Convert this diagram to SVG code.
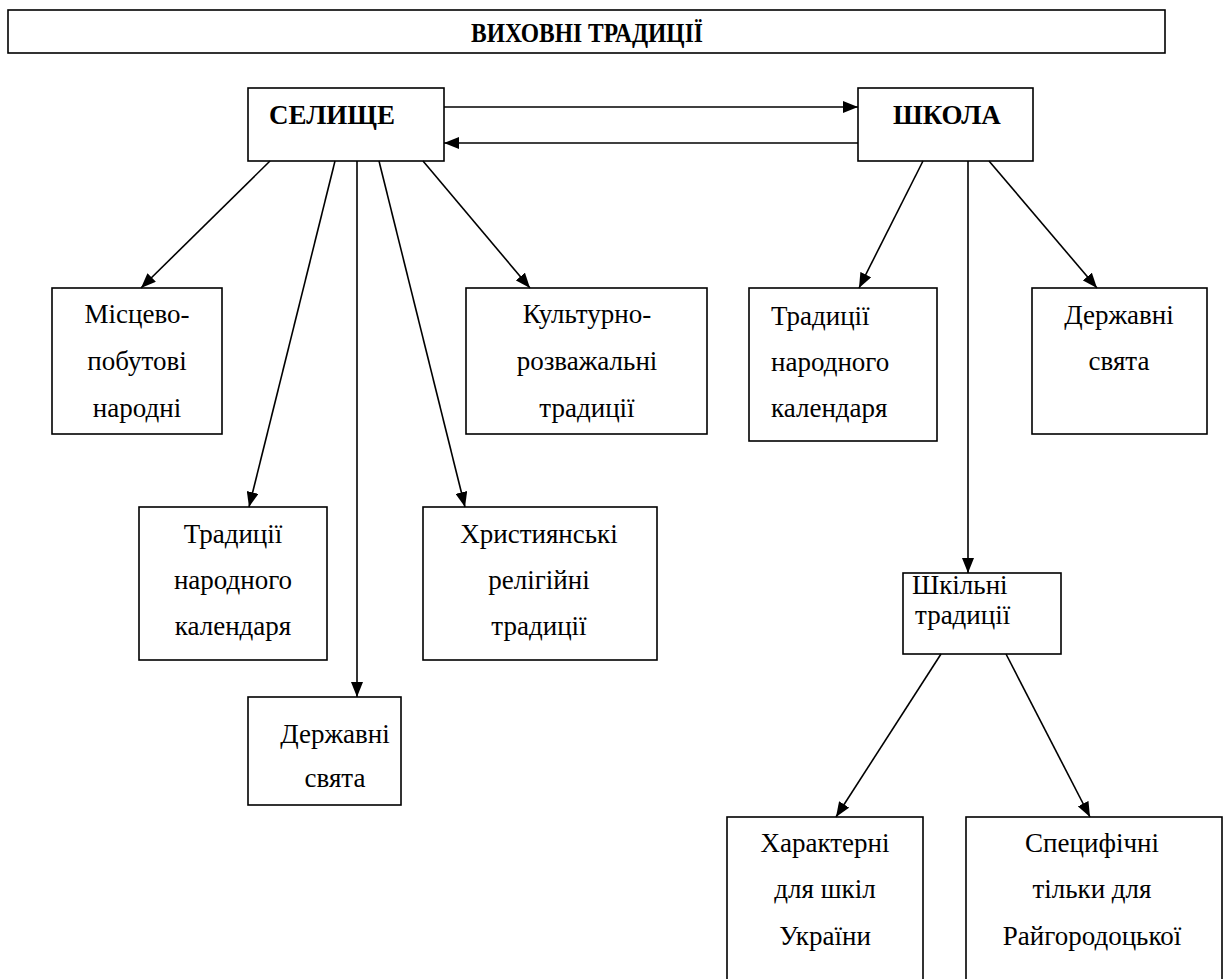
<svg xmlns="http://www.w3.org/2000/svg" width="1232" height="979" viewBox="0 0 1232 979">
<style>
text{font-family:'Liberation Serif','Times New Roman',serif;font-size:27px;fill:#000}
.box{fill:#fff;stroke:#000;stroke-width:1.6}
.t{text-anchor:middle}
.b{font-weight:bold}
.c{stroke:#000;stroke-width:1.6;fill:none;marker-end:url(#ah)}
</style>
<defs>
<marker id="ah" markerUnits="userSpaceOnUse" markerWidth="16" markerHeight="12" refX="15" refY="6" orient="auto">
<path d="M0,0 L15,6 L0,12 z" fill="#000"/>
</marker>
</defs>
<rect width="1232" height="979" fill="#fff"/>
<g id="title">
<rect class="box" x="8" y="10" width="1157" height="43"/>
<text class="b t" x="587" y="42" transform="translate(587,42) scale(1,1.2) translate(-587,-42)" style="font-size:23.5px">ВИХОВНІ ТРАДИЦІЇ</text>
</g>
<g id="selyshche">
<rect class="box" x="248" y="88" width="196" height="73"/>
<text class="b" x="269" y="124">СЕЛИЩЕ</text>
</g>
<g id="shkola">
<rect class="box" x="858" y="88" width="175" height="73"/>
<text class="b" x="893" y="124">ШКОЛА</text>
</g>
<g id="mistsevo">
<rect class="box" x="52" y="288" width="170" height="146"/>
<text class="t" x="137" y="323">Місцево-</text>
<text class="t" x="137" y="370">побутові</text>
<text class="t" x="137" y="417">народні</text>
</g>
<g id="kulturno">
<rect class="box" x="466" y="288" width="241" height="146"/>
<text class="t" x="587" y="323">Культурно-</text>
<text class="t" x="587" y="370">розважальні</text>
<text class="t" x="587" y="417">традиції</text>
</g>
<g id="tradytsii-r">
<rect class="box" x="749" y="288" width="188" height="153"/>
<text x="771" y="325">Традиції</text>
<text x="771" y="371">народного</text>
<text x="771" y="417">календаря</text>
</g>
<g id="derzhavni-r">
<rect class="box" x="1032" y="288" width="175" height="146"/>
<text class="t" x="1119" y="324">Державні</text>
<text class="t" x="1119" y="370">свята</text>
</g>
<g id="tradytsii-l">
<rect class="box" x="139" y="507" width="188" height="153"/>
<text class="t" x="233" y="543">Традиції</text>
<text class="t" x="233" y="589">народного</text>
<text class="t" x="233" y="635">календаря</text>
</g>
<g id="khrystyianski">
<rect class="box" x="423" y="507" width="234" height="153"/>
<text class="t" x="539" y="543">Християнські</text>
<text class="t" x="539" y="589">релігійні</text>
<text class="t" x="539" y="635">традиції</text>
</g>
<g id="derzhavni-l">
<rect class="box" x="248" y="697" width="153" height="108"/>
<text class="t" x="335" y="743">Державні</text>
<text class="t" x="335" y="787">свята</text>
</g>
<g id="shkilni">
<rect class="box" x="903" y="573" width="158" height="81"/>
<text x="912" y="594">Шкільні</text>
<text x="915" y="624">традиції</text>
</g>
<g id="kharakterni">
<rect class="box" x="727" y="817" width="196" height="180"/>
<text class="t" x="825" y="852">Характерні</text>
<text class="t" x="825" y="898">для шкіл</text>
<text class="t" x="825" y="945">України</text>
</g>
<g id="spetsyfichni">
<rect class="box" x="966" y="817" width="256" height="180"/>
<text class="t" x="1092" y="852">Специфічні</text>
<text class="t" x="1092" y="898">тільки для</text>
<text class="t" x="1092" y="945">Райгородоцької</text>
</g>
<g id="connectors">
<line class="c" x1="444" y1="107" x2="858" y2="107"/>
<line class="c" x1="858" y1="143" x2="444" y2="143"/>
<line class="c" x1="270" y1="161" x2="141" y2="288"/>
<line class="c" x1="335" y1="161" x2="249" y2="507"/>
<line class="c" x1="357" y1="161" x2="357" y2="697"/>
<line class="c" x1="379" y1="161" x2="465" y2="507"/>
<line class="c" x1="423" y1="161" x2="530" y2="288"/>
<line class="c" x1="923" y1="161" x2="859" y2="288"/>
<line class="c" x1="968" y1="161" x2="968" y2="573"/>
<line class="c" x1="989" y1="161" x2="1097" y2="288"/>
<line class="c" x1="941" y1="654" x2="836" y2="817"/>
<line class="c" x1="1006" y1="654" x2="1090" y2="817"/>
</g>
</svg>
